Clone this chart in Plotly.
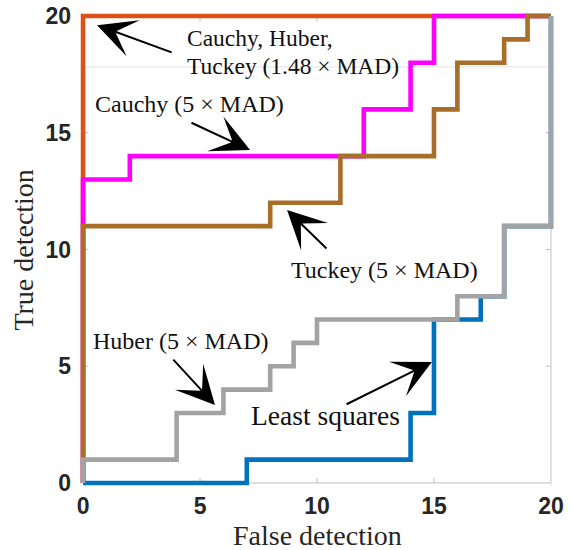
import plotly.graph_objects as go

# Detection curves (false detections vs. true detections), as step paths
ls_x = [0, 7, 7, 14, 14, 15, 15, 17, 17, 18, 18, 20, 20]
ls_y = [0, 0, 1, 1, 3, 3, 7, 7, 8, 8, 11, 11, 20]

huber5_x = [0, 0, 4, 4, 6, 6, 8, 8, 9, 9, 10, 10, 16, 16, 18, 18, 20, 20]
huber5_y = [0, 1, 1, 3, 3, 4, 4, 5, 5, 6, 6, 7, 7, 8, 8, 11, 11, 20]

tuckey5_x = [0, 0, 8, 8, 11, 11, 15, 15, 16, 16, 18, 18, 19, 19, 20]
tuckey5_y = [0, 11, 11, 12, 12, 14, 14, 16, 16, 18, 18, 19, 19, 20, 20]

cauchy5_x = [0, 0, 2, 2, 12, 12, 14, 14, 15, 15, 20]
cauchy5_y = [0, 13, 13, 14, 14, 16, 16, 18, 18, 20, 20]

robust148_x = [0, 0, 20]
robust148_y = [0, 20, 20]

tick_vals = [0, 5, 10, 15, 20]
tick_text = ["0", "5", "10", "15", "20"]

LW = 4.6
fig = go.Figure()
# drawing order: later curves sit on top of earlier ones
for xs, ys, col in [
    (robust148_x, robust148_y, "#D95319"),
    (cauchy5_x, cauchy5_y, "#FF00FF"),
    (tuckey5_x, tuckey5_y, "#A86E2A"),
    (ls_x, ls_y, "#0072BD"),
    (huber5_x, huber5_y, "#A3A3A3"),
]:
    fig.add_trace(go.Scatter(x=xs, y=ys, mode="lines",
                             line=dict(color=col, width=LW),
                             hoverinfo="skip", showlegend=False))

serif = "Liberation Serif"
axis_gray = "#BDBDBD"

shapes = []
# axes box
shapes.append(dict(type="rect", xref="x", yref="y", x0=0, x1=20, y0=0, y1=20,
                   line=dict(color=axis_gray, width=1), layer="below"))
# faint outer frame
shapes.append(dict(type="rect", xref="x", yref="y", x0=0.08, x1=20, y0=-2.23, y1=17.82,
                   line=dict(color="#E2E2E2", width=1), layer="below"))
# inward tick marks on all four sides
tl = 0.22
for v in tick_vals[1:-1]:
    shapes.append(dict(type="line", xref="x", yref="y", x0=v, x1=v, y0=0, y1=tl,
                       line=dict(color=axis_gray, width=1), layer="below"))
    shapes.append(dict(type="line", xref="x", yref="y", x0=v, x1=v, y0=20, y1=20 - tl,
                       line=dict(color=axis_gray, width=1), layer="below"))
    shapes.append(dict(type="line", xref="x", yref="y", x0=0, x1=tl, y0=v, y1=v,
                       line=dict(color=axis_gray, width=1), layer="below"))
    shapes.append(dict(type="line", xref="x", yref="y", x0=20, x1=20 - tl, y0=v, y1=v,
                       line=dict(color=axis_gray, width=1), layer="below"))

annotations = []
tfont = dict(family=serif, size=24, color="#111111")
texts = [
    ("Cauchy, Huber,", 4.36, 19.06, "left", 23.5),
    ("Tuckey (1.48 × MAD)", 4.36, 17.88, "left", 23.5),
    ("Cauchy (5 × MAD)", 4.57, 16.23, "center", 24),
    ("Tuckey (5 × MAD)", 12.9, 9.12, "center", 24),
    ("Huber (5 × MAD)", 4.19, 6.08, "center", 24),
    ("Least squares", 10.38, 2.87, "center", 27.5),
]
for t, x, y, anc, sz in texts:
    annotations.append(dict(text=t, x=x, y=y, xref="x", yref="y", showarrow=False,
                            xanchor=anc, yanchor="middle", align="left", valign="middle",
                            font=dict(tfont, size=sz)))

# arrows: (tail x, tail y, tip x, tip y)
arrows = [
    (3.85, 18.42, 0.60, 19.61),
    (4.57, 15.46, 7.14, 14.26),
    (10.47, 9.98, 8.72, 11.69),
    (3.80, 5.35, 5.64, 3.34),
    (11.20, 3.34, 14.91, 5.18),
]
for ax_, ay_, x, y in arrows:
    annotations.append(dict(text="", x=x, y=y, ax=ax_, ay=ay_, xref="x", yref="y",
                            axref="x", ayref="y", showarrow=True, arrowhead=3,
                            arrowsize=3.2, arrowwidth=2, arrowcolor="black",
                            standoff=0, startstandoff=0))

# axis titles
annotations.append(dict(text="False detection", xref="paper", yref="paper",
                        x=0.5, y=-0.105, yanchor="middle", xanchor="center",
                        showarrow=False, font=dict(family=serif, size=28, color="#262626")))
annotations.append(dict(text="True detection", xref="paper", yref="paper",
                        x=-0.12, y=0.5, yanchor="middle", xanchor="center", textangle=-90,
                        showarrow=False, font=dict(family=serif, size=28, color="#262626")))

tickfont = dict(family="Liberation Sans", size=23, color="#262626", weight="bold")
fig.update_layout(
    width=571, height=550,
    margin=dict(l=80, r=17, t=13, b=64, autoexpand=False),
    plot_bgcolor="white", paper_bgcolor="white",
    shapes=shapes, annotations=annotations,
    xaxis=dict(range=[-0.13, 20.13], tickvals=tick_vals, ticktext=tick_text,
               showgrid=False, zeroline=False, showline=False, ticks="",
               tickfont=tickfont, ticklabelstandoff=4, automargin=False),
    yaxis=dict(range=[-0.13, 20.13], tickvals=tick_vals, ticktext=tick_text,
               showgrid=False, zeroline=False, showline=False, ticks="",
               tickfont=tickfont, ticklabelstandoff=8, automargin=False),
)

fig.write_html("out.html")
